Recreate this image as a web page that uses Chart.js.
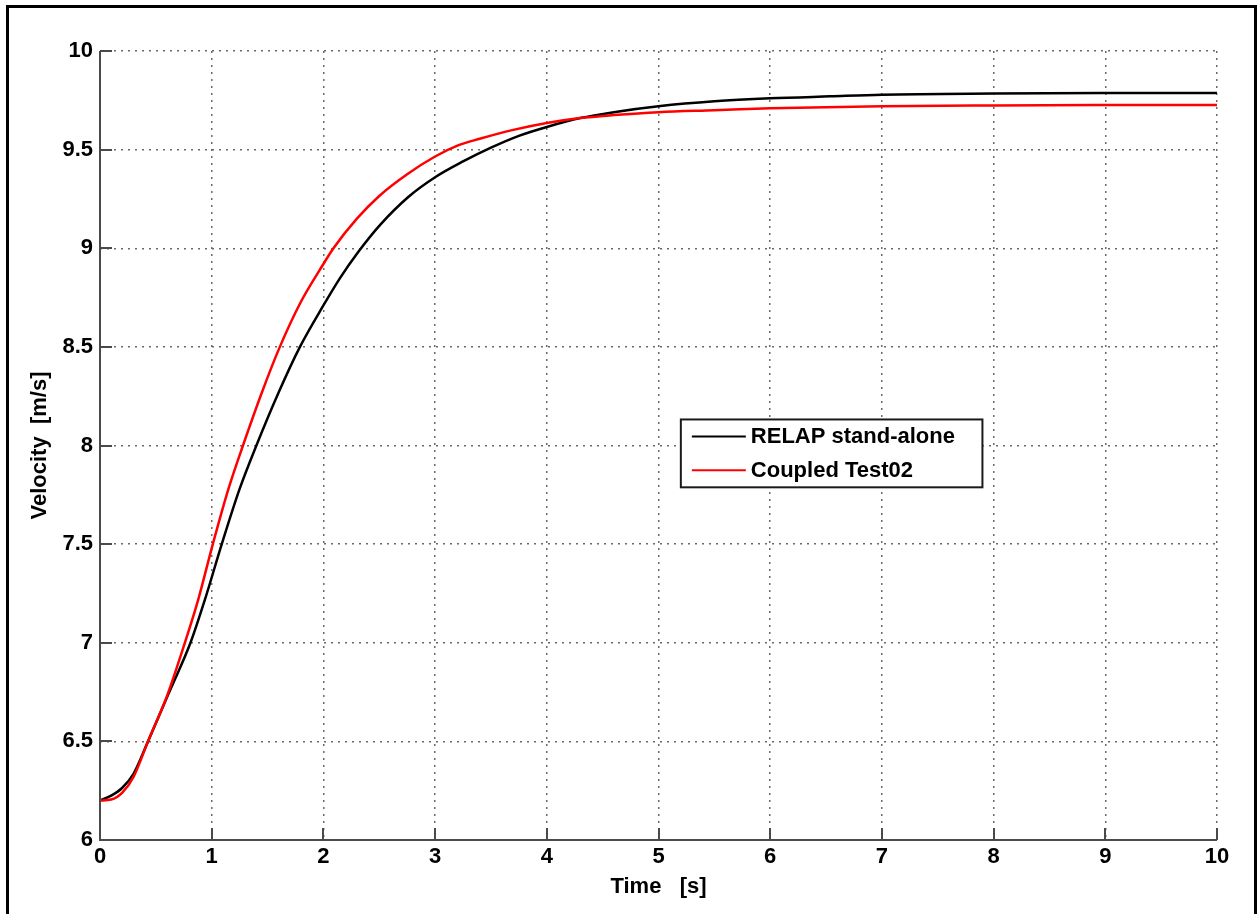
<!DOCTYPE html>
<html>
<head>
<meta charset="utf-8">
<script src="https://cdn.jsdelivr.net/npm/chart.js@4/dist/chart.umd.min.js"></script>
<style>
  html, body { margin: 0; padding: 0; background: #fff; }
  #wrap { width: 1259px; height: 914px; position: relative; }
</style>
</head>
<body>
<div id="wrap"><canvas id="c" width="1259" height="914"></canvas></div>
<script>
// ---- data ----
const seriesLabels = ["RELAP stand-alone", "Coupled Test02"];
const relapTime = [0, 0.1, 0.2, 0.3, 0.43, 0.62, 0.81, 0.94, 1.09, 1.25, 1.4, 1.6, 1.79, 2.0, 2.15, 2.31, 2.51, 2.76, 3.0, 3.25, 3.5, 3.75, 4.0, 4.3, 4.6, 5.0, 5.5, 6.0, 6.54, 7.0, 8.0, 9.0, 10.0];
const relapVel  = [6.20, 6.225, 6.265, 6.335, 6.50, 6.75, 7.00, 7.22, 7.50, 7.78, 8.00, 8.27, 8.50, 8.71, 8.85, 8.98, 9.12, 9.26, 9.36, 9.44, 9.51, 9.57, 9.615, 9.66, 9.69, 9.72, 9.745, 9.76, 9.77, 9.778, 9.784, 9.787, 9.787];
const coupledTime = [0, 0.1, 0.2, 0.3, 0.43, 0.6, 0.76, 0.88, 1.01, 1.15, 1.28, 1.45, 1.61, 1.8, 2.0, 2.09, 2.3, 2.5, 2.75, 3.0, 3.2, 3.4, 3.7, 4.0, 4.3, 4.6, 5.0, 5.5, 6.0, 7.0, 8.0, 9.0, 10.0];
const coupledVel  = [6.20, 6.205, 6.24, 6.32, 6.50, 6.73, 7.00, 7.22, 7.50, 7.78, 8.00, 8.27, 8.50, 8.73, 8.92, 9.00, 9.15, 9.265, 9.375, 9.465, 9.52, 9.555, 9.60, 9.635, 9.66, 9.675, 9.69, 9.70, 9.71, 9.72, 9.724, 9.726, 9.726];
const xTicks = [0,1,2,3,4,5,6,7,8,9,10];
const yTicks = [6,6.5,7,7.5,8,8.5,9,9.5,10];
const xTitle = "Time   [s]";
const yTitle = "Velocity  [m/s]";

const toPts = (xs, ys) => xs.map((x, i) => ({ x: x, y: ys[i] }));

const FONT = "'Liberation Sans', Arial, sans-serif";
const AXIS_COLOR = '#4a4a4a';
const GRID_COLOR = '#6a6a6a';

// frame around the figure
const framePlugin = {
  id: 'frame',
  afterDraw(chart) {
    const ctx = chart.ctx;
    ctx.save();
    ctx.strokeStyle = '#000';
    ctx.lineWidth = 3;
    ctx.beginPath();
    ctx.moveTo(7.5, 920);
    ctx.lineTo(7.5, 6.5);
    ctx.lineTo(1255.5, 6.5);
    ctx.lineTo(1255.5, 920);
    ctx.stroke();
    ctx.restore();
  }
};

// solid axis lines + inward ticks (MATLAB style)
const inTicksPlugin = {
  id: 'inTicks',
  afterDatasetsDraw(chart) {
    const ctx = chart.ctx;
    const xs = chart.scales.x, ys = chart.scales.y;
    const a = chart.chartArea;
    ctx.save();
    ctx.setLineDash([]);
    ctx.strokeStyle = AXIS_COLOR;
    ctx.lineWidth = 2;
    ctx.beginPath();
    ctx.moveTo(a.left, a.top);
    ctx.lineTo(a.left, a.bottom);
    ctx.lineTo(a.right, a.bottom);
    xTicks.forEach(v => {
      const p = Math.round(xs.getPixelForValue(v));
      ctx.moveTo(p, a.bottom);
      ctx.lineTo(p, a.bottom - 12);
    });
    yTicks.forEach(v => {
      const p = Math.round(ys.getPixelForValue(v));
      ctx.moveTo(a.left, p);
      ctx.lineTo(a.left + 12, p);
    });
    ctx.stroke();
    ctx.restore();
  }
};

// legend box inside the plot
const boxLegendPlugin = {
  id: 'boxLegend',
  afterDatasetsDraw(chart) {
    const ctx = chart.ctx;
    const a = chart.chartArea;
    const w = a.right - a.left, h = a.bottom - a.top;
    const x0 = a.left + w * 0.520, x1 = a.left + w * 0.790;
    const y0 = a.top + h * 0.467, y1 = a.top + h * 0.553;
    ctx.save();
    ctx.setLineDash([]);
    ctx.fillStyle = '#fff';
    ctx.fillRect(x0, y0, x1 - x0, y1 - y0);
    ctx.strokeStyle = '#1a1a1a';
    ctx.lineWidth = 2;
    ctx.strokeRect(x0, y0, x1 - x0, y1 - y0);
    const rowH = (y1 - y0);
    const rows = [y0 + rowH * 0.25, y0 + rowH * 0.75];
    chart.data.datasets.forEach((ds, i) => {
      const yy = rows[i];
      ctx.strokeStyle = ds.borderColor;
      ctx.lineWidth = 2;
      ctx.beginPath();
      ctx.moveTo(x0 + 11, yy);
      ctx.lineTo(x0 + 65, yy);
      ctx.stroke();
      ctx.fillStyle = '#000';
      ctx.font = "bold 22px " + FONT;
      ctx.textBaseline = 'middle';
      ctx.textAlign = 'left';
      ctx.fillText(ds.label, x0 + 70, yy + 1);
    });
    ctx.restore();
  }
};

const tickFont = { family: FONT, size: 22, weight: 'bold', lineHeight: 1.2 };

new Chart(document.getElementById('c'), {
  type: 'line',
  data: {
    datasets: [
      {
        label: seriesLabels[0],
        data: toPts(relapTime, relapVel),
        borderColor: '#000000',
        borderWidth: 2.5,
        pointRadius: 0,
        cubicInterpolationMode: 'monotone',
        order: 1
      },
      {
        label: seriesLabels[1],
        data: toPts(coupledTime, coupledVel),
        borderColor: '#ff0000',
        borderWidth: 2.5,
        pointRadius: 0,
        cubicInterpolationMode: 'monotone',
        order: 0
      }
    ]
  },
  options: {
    responsive: false,
    animation: false,
    devicePixelRatio: 1,
    layout: { padding: { top: 51, right: 42, left: 0, bottom: 0 } },
    plugins: {
      legend: { display: false },
      tooltip: { enabled: false }
    },
    scales: {
      x: {
        type: 'linear',
        min: 0, max: 10,
        afterFit(scale) { scale.height = 74; },
        afterBuildTicks(scale) { scale.ticks = xTicks.map(v => ({ value: v })); },
        grid: { color: GRID_COLOR, lineWidth: 1.5, drawTicks: false },
        border: { display: false, dash: [2, 5] },
        ticks: {
          color: '#000',
          font: tickFont,
          padding: 4,
          maxRotation: 0,
          autoSkip: false,
          callback: v => String(v)
        },
        title: {
          display: true,
          text: xTitle,
          color: '#000',
          font: tickFont,
          padding: { top: 0, bottom: 14 }
        }
      },
      y: {
        type: 'linear',
        min: 6, max: 10,
        afterFit(scale) { scale.width = 100; },
        afterBuildTicks(scale) { scale.ticks = yTicks.map(v => ({ value: v })); },
        grid: { color: GRID_COLOR, lineWidth: 1.5, drawTicks: false },
        border: { display: false, dash: [2, 5] },
        ticks: {
          color: '#000',
          font: tickFont,
          padding: 7,
          autoSkip: false,
          callback: v => String(v)
        },
        title: {
          display: true,
          text: yTitle,
          color: '#000',
          font: tickFont,
          padding: { top: 27, bottom: 0 }
        }
      }
    }
  },
  plugins: [inTicksPlugin, boxLegendPlugin, framePlugin]
});
</script>
</body>
</html>
